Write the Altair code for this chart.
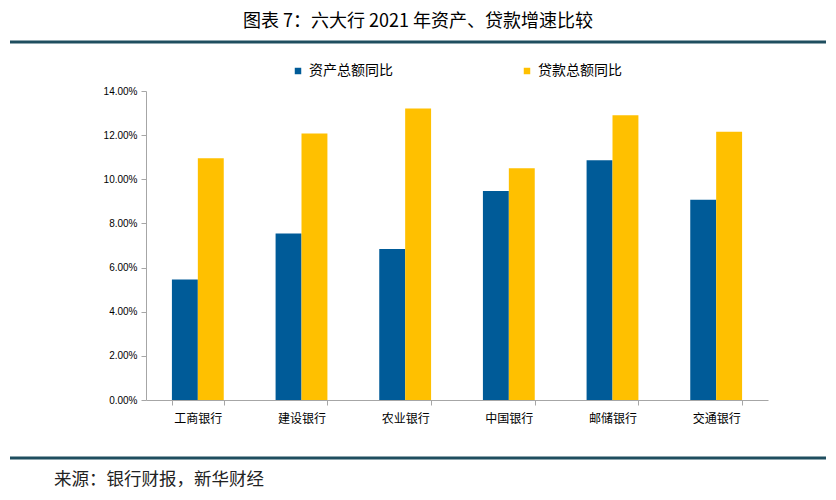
import altair as alt
import pandas as pd

banks = ["工商银行", "建设银行", "农业银行", "中国银行", "邮储银行", "交通银行"]
series = ["资产总额同比", "贷款总额同比"]
asset_growth = [5.46, 7.54, 6.84, 9.47, 10.86, 9.07]
loan_growth = [10.95, 12.07, 13.21, 10.50, 12.90, 12.15]

title_text = "图表 7：六大行 2021 年资产、贷款增速比较"
source_text = "来源：银行财报，新华财经"

rows = []
for b, a, l in zip(banks, asset_growth, loan_growth):
    rows.append({"bank": b, "series": series[0], "value": a})
    rows.append({"bank": b, "series": series[1], "value": l})
df = pd.DataFrame(rows)

FONT = "Noto Sans CJK SC"
W, H = 622, 309
one = alt.Data(values=[{}])

bars = alt.Chart(df).mark_bar().encode(
    x=alt.X("bank:N", sort=banks, title=None,
            scale=alt.Scale(paddingInner=0.5, paddingOuter=0.25),
            axis=alt.Axis(labelAngle=0, labelFont=FONT, labelFontSize=12,
                          labelColor="#000", labelPadding=8, tickBand="extent",
                          domainColor="#A6A6A6", tickColor="#A6A6A6", tickSize=5)),
    xOffset=alt.XOffset("series:N", sort=series),
    y=alt.Y("value:Q", title=None,
            scale=alt.Scale(domain=[0, 14]),
            axis=alt.Axis(values=[0, 2, 4, 6, 8, 10, 12, 14], grid=False,
                          labelExpr="format(datum.value, '.2f') + '%'",
                          labelFont="Liberation Sans", labelFontSize=10, labelColor="#000",
                          domainColor="#A6A6A6", tickColor="#A6A6A6", tickSize=5,
                          labelPadding=4)),
    color=alt.Color("series:N", sort=series,
                    scale=alt.Scale(domain=series, range=["#005B98", "#FFC000"]),
                    legend=alt.Legend(title=None, orient="none", direction="horizontal",
                                      legendX=145, legendY=-27, symbolType="square",
                                      symbolSize=42, labelFont=FONT, labelFontSize=14,
                                      labelColor="#000", columnPadding=127,
                                      symbolOffset=0, labelOffset=4)),
)

top_line = alt.Chart(one).mark_rule(color="#1F4E5F", strokeWidth=3).encode(
    x=alt.value(-136), x2=alt.value(680), y=alt.value(-49))
bottom_line = alt.Chart(one).mark_rule(color="#1F4E5F", strokeWidth=3).encode(
    x=alt.value(-136), x2=alt.value(680), y=alt.value(367))
title = alt.Chart(one).mark_text(font=FONT, fontSize=18, color="#000", align="center",
                                 baseline="middle").encode(
    x=alt.value(272), y=alt.value(-69), text=alt.value(title_text))
source = alt.Chart(one).mark_text(font=FONT, fontSize=17.5, color="#222", align="left",
                                  baseline="middle").encode(
    x=alt.value(-92), y=alt.value(389), text=alt.value(source_text))

chart = alt.layer(bars, top_line, bottom_line, title, source).properties(
    width=W, height=H,
    background="white",
    autosize=alt.AutoSizeParams(type="none"),
    padding={"left": 138, "top": 83, "right": 60, "bottom": 92},
).configure_view(stroke="transparent", strokeWidth=0)

chart.save("out.html", embed_options={"renderer": "svg", "actions": False})
